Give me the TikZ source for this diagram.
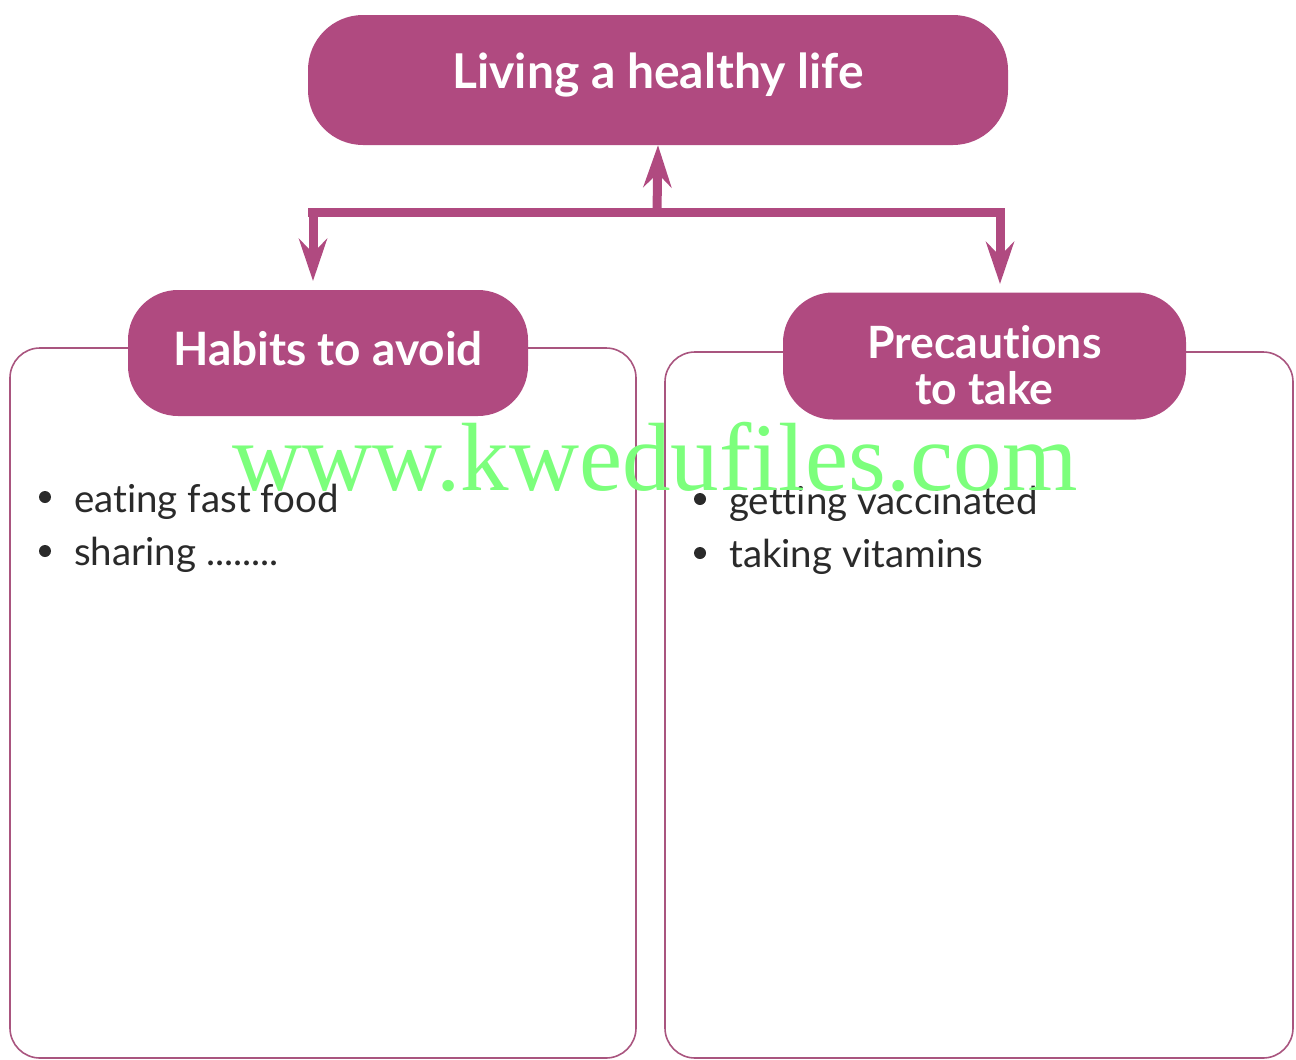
\documentclass[tikz,border=0pt]{standalone}
\usepackage{fontspec}
\setmainfont{Lato}[Ligatures={NoCommon,NoRare,NoContextual}]
\newfontfamily\wmfont{Liberation Serif}
\usetikzlibrary{arrows.meta,shapes.misc}
\definecolor{plum}{HTML}{B04A80}
\definecolor{boxline}{HTML}{A9557F}
\definecolor{wmgreen}{HTML}{7CFF7C}
\definecolor{bodytext}{HTML}{2A2A2A}
\tikzset{
  x=1pt, y=-1pt,
  pill/.style={fill=plum, text=white, font=\fontsize{48}{48}\selectfont\bfseries,
    rounded corners=55pt, inner sep=0pt, align=center},
  panel/.style={draw=boxline, line width=1.6pt, rounded corners=30pt},
  link/.style={draw=plum, line width=9pt,
    -{Stealth[length=42pt,width=28pt,inset=14pt]}},
  bar/.style={draw=plum, line width=9pt},
  item/.style={anchor=base west, font=\fontsize{38.5}{38.5}\selectfont, text=bodytext, inner sep=0pt},
  dot/.style={circle, fill=bodytext, inner sep=0pt, minimum size=12pt},
  wm/.style={font=\wmfont\fontsize{97}{97}\selectfont, text=wmgreen, anchor=base, inner sep=0pt}
}
\begin{document}
\begin{tikzpicture}
\useasboundingbox (0,0) rectangle (1296,1060);
% panels
\draw[panel] (10,348) rectangle (636,1058);
\draw[panel] (665,352) rectangle (1293,1058);
% headings
\node[pill, minimum width=700pt, minimum height=130pt] (top) at (658,80)
  {\raisebox{-8pt}[0pt][0pt]{Living a healthy life}};
\node[pill, minimum width=400pt, minimum height=126pt, rounded corners=50pt,
  font=\fontsize{46}{46}\selectfont\bfseries] (habits) at (328,353)
  {\raisebox{-12pt}[0pt][0pt]{Habits to avoid}};
\node[pill, minimum width=403pt, minimum height=127pt, rounded corners=50pt,
  font=\fontsize{44.5}{43}\selectfont\bfseries] (prec) at (984.5,356)
  {\raisebox{-48pt}[0pt][0pt]{\begin{tabular}[b]{@{}c@{}}Precautions\\to take\end{tabular}}};
% connectors
\coordinate (j) at (657,212);
\coordinate (jl) at (313,212);
\coordinate (jr) at (1000,212);
\coordinate (la) at (313,281);
\coordinate (ra) at (1000,284);
\draw[bar] ([xshift=-5pt]jl) -- ([xshift=5pt]jr);
\draw[link] (j) -- (top.south);
\draw[link] (jl) -- (la);
\draw[link] (jr) -- (ra);
% items
\node[dot] (d1) at (45,497) {};
\node[item] (t1) at (74,512) {eating fast food};
\node[dot] (d2) at (45,551) {};
\node[item] (t2) at (74,565) {sharing ........};
\node[dot] (d3) at (700,499) {};
\node[item] (t3) at (729,514) {getting vaccinated};
\node[dot] (d4) at (700,553) {};
\node[item] (t4) at (729,567) {taking vitamins};
% watermark
\node[wm] (w) at (655,490) {www.kwedufiles.com};
\end{tikzpicture}
\end{document}
